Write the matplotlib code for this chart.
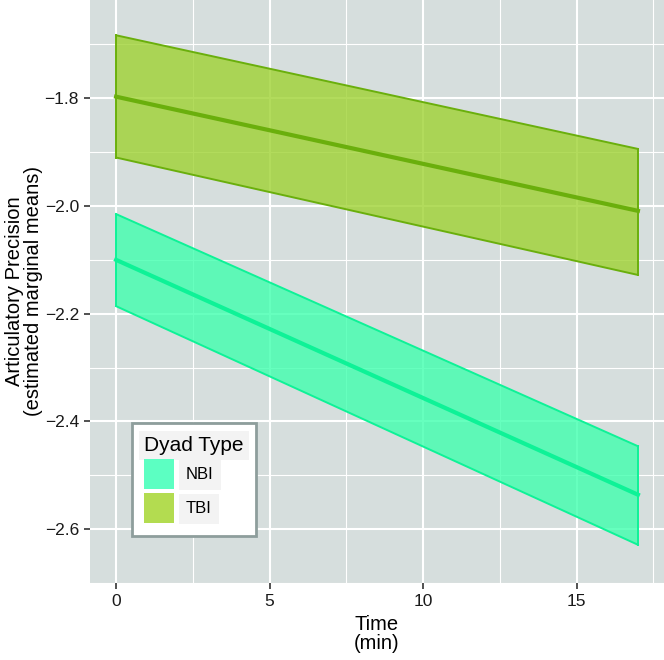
import matplotlib
matplotlib.use('Agg')
import matplotlib.pyplot as plt
from matplotlib.patches import Patch

# estimated marginal means at start and end of the session
time = [0, 17]
groups = ['NBI', 'TBI']
nbi_mean = [-2.100, -2.536]
nbi_lower = [-2.186, -2.629]
nbi_upper = [-2.015, -2.446]
tbi_mean = [-1.797, -2.009]
tbi_lower = [-1.910, -2.128]
tbi_upper = [-1.683, -1.894]

fill_colors = {'NBI': '#40FFAE', 'TBI': '#9FD233'}
line_colors = {'NBI': '#0EF297', 'TBI': '#6AAF0C'}
key_colors = {'NBI': '#5CFFC2', 'TBI': '#B3DC50'}

plt.rcParams['font.family'] = ['Liberation Sans', 'DejaVu Sans']

def main():
    fig = plt.figure(figsize=(6.64, 6.6), dpi=100)
    ax = fig.add_axes([90 / 664, 1 - 583 / 660, 574 / 664, 583 / 660])
    ax.set_facecolor('#D6DEDD')

    series = {
        'NBI': (nbi_mean, nbi_lower, nbi_upper),
        'TBI': (tbi_mean, tbi_lower, tbi_upper),
    }
    for g in groups:
        m, lo, hi = series[g]
        ax.fill_between(time, lo, hi, facecolor=fill_colors[g], alpha=0.8,
                        edgecolor='none', zorder=3)
        ax.plot(time, lo, color=line_colors[g], lw=1.4, zorder=4)
        ax.plot(time, hi, color=line_colors[g], lw=1.4, zorder=4)
        ax.plot([time[0], time[0]], [lo[0], hi[0]], color=line_colors[g], lw=1.4, zorder=4)
        ax.plot([time[-1], time[-1]], [lo[-1], hi[-1]], color=line_colors[g], lw=1.4, zorder=4)
        ax.plot(time, m, color=line_colors[g], lw=3, zorder=5)

    ax.set_xlim(-0.85, 17.85)
    ax.set_ylim(-2.692, -1.6175)
    ax.set_xticks([0, 5, 10, 15])
    ax.set_xticks([2.5, 7.5, 12.5, 17.5], minor=True)
    yt = [-2.6, -2.4, -2.2, -2.0, -1.8]
    ax.set_yticks(yt)
    ax.set_yticklabels([f'{v:.1f}'.replace('-', '\u2212') for v in yt])
    ax.set_yticks([-2.7, -2.5, -2.3, -2.1, -1.9, -1.7], minor=True)

    ax.grid(True, which='major', color='white', lw=1.5, zorder=1)
    ax.grid(True, which='minor', color='white', lw=0.8, zorder=1)
    ax.set_axisbelow(False)
    for gl in ax.get_xgridlines() + ax.get_ygridlines():
        gl.set_zorder(1)
    for s in ax.spines.values():
        s.set_visible(False)

    ax.tick_params(which='major', length=4, width=1.2, color='#333333',
                   labelsize=12.5, labelcolor='#1A1A1A', pad=4)
    ax.tick_params(which='minor', length=0)

    ax.set_xlabel('Time\n(min)', fontsize=14.5, labelpad=4, linespacing=1.0)
    ax.set_ylabel('Articulatory Precision\n(estimated marginal means)', fontsize=14.5,
                  labelpad=1, linespacing=1.0)

    handles = [Patch(facecolor=key_colors[g], edgecolor='none') for g in groups]
    leg = ax.legend(handles, groups, title='Dyad Type', loc='upper left',
                    bbox_to_anchor=(0.073, 0.274), borderaxespad=0,
                    fontsize=12, title_fontsize=15, handlelength=1.8,
                    handleheight=2.4, handletextpad=0.7, labelspacing=0.25,
                    borderpad=0.75, fancybox=False, framealpha=1)
    leg.get_frame().set_edgecolor('#8E9E9C')
    leg.get_frame().set_linewidth(2)
    leg._legend_box.align = 'left'
    leg.set_zorder(10)
    for t in leg.get_texts():
        t.set_bbox(dict(boxstyle='square,pad=0.45', facecolor='#F3F3F3', edgecolor='none'))
    leg.get_title().set_bbox(dict(boxstyle='square,pad=0.25', facecolor='#F3F3F3', edgecolor='none'))

    fig.savefig('out.png', dpi=100)

if __name__ == '__main__':
    main()
